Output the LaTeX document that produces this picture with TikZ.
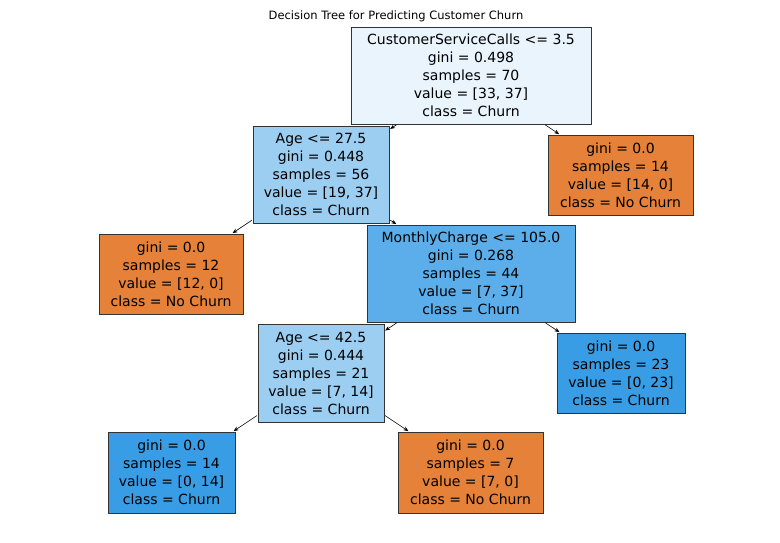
\documentclass[tikz,border=0pt]{standalone}
\usepackage{fontspec}
\setmainfont{DejaVu Sans}
\usetikzlibrary{arrows.meta}
\definecolor{orng}{HTML}{E58139}
\definecolor{dblue}{HTML}{399DE5}
\definecolor{lblue}{HTML}{9CCEF2}
\definecolor{rblue}{HTML}{E9F4FC}
\definecolor{mblue}{HTML}{5BAEEA}
\begin{document}
\begin{tikzpicture}[x=1pt,y=-1pt,
  tn/.style={draw=black!80,line width=0.6pt,align=center,inner sep=0pt,font=\fontsize{14}{18}\selectfont},
  ed/.style={-{Stealth[length=5pt,width=4pt]},line width=0.6pt,shorten <=1pt,shorten >=1pt}]
\useasboundingbox (0,0) rectangle (780,543);
\node[font=\fontsize{11.5}{13}\selectfont] (title) at (396,16) {Decision Tree for Predicting Customer Churn};
\node[tn,fill=rblue,minimum width=240pt,minimum height=97pt] (r) at (471,75.5) {CustomerServiceCalls <= 3.5\\gini = 0.498\\samples = 70\\value = [33, 37]\\class = Churn};
\node[tn,fill=lblue,minimum width=136pt,minimum height=97pt] (a) at (321,174.5) {Age <= 27.5\\gini = 0.448\\samples = 56\\value = [19, 37]\\class = Churn};
\node[tn,fill=orng,minimum width=145pt,minimum height=80pt] (l14o) at (620.5,175) {gini = 0.0\\samples = 14\\value = [14, 0]\\class = No Churn};
\node[tn,fill=orng,minimum width=144pt,minimum height=80pt] (l12) at (171,274) {gini = 0.0\\samples = 12\\value = [12, 0]\\class = No Churn};
\node[tn,fill=mblue,minimum width=208pt,minimum height=97pt] (m) at (471,273.5) {MonthlyCharge <= 105.0\\gini = 0.268\\samples = 44\\value = [7, 37]\\class = Churn};
\node[tn,fill=dblue,minimum width=128pt,minimum height=80pt] (l23) at (621,373) {gini = 0.0\\samples = 23\\value = [0, 23]\\class = Churn};
\node[tn,fill=lblue,minimum width=126pt,minimum height=98pt] (b) at (321,373) {Age <= 42.5\\gini = 0.444\\samples = 21\\value = [7, 14]\\class = Churn};
\node[tn,fill=dblue,minimum width=127pt,minimum height=81pt] (l14) at (171.5,472.5) {gini = 0.0\\samples = 14\\value = [0, 14]\\class = Churn};
\node[tn,fill=orng,minimum width=145pt,minimum height=81pt] (l7) at (470.5,472.5) {gini = 0.0\\samples = 7\\value = [7, 0]\\class = No Churn};
\draw[ed] (r) -- (a);
\draw[ed] (r) -- (l14o);
\draw[ed] (a) -- (l12);
\draw[ed] (a) -- (m);
\draw[ed] (m) -- (b);
\draw[ed] (m) -- (l23);
\draw[ed] (b) -- (l14);
\draw[ed] (b) -- (l7);
\end{tikzpicture}
\end{document}
